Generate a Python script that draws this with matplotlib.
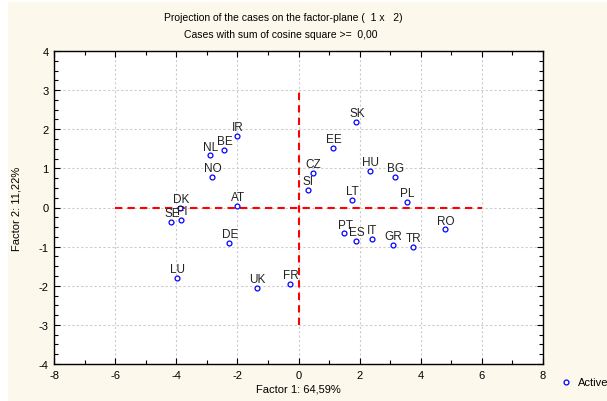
import matplotlib
matplotlib.use("Agg")
import matplotlib.pyplot as plt
from matplotlib.lines import Line2D
from matplotlib.patches import Rectangle
from matplotlib.ticker import MultipleLocator

# case labels and their coordinates on factor 1 / factor 2
countries = ["IR", "BE", "NL", "NO", "DK", "FI", "SE", "AT", "DE", "LU", "UK", "FR",
             "CZ", "SI", "SK", "EE", "HU", "BG", "LT", "PL", "RO", "PT", "ES", "IT",
             "GR", "TR"]
factor1 = [-2.00, -2.44, -2.90, -2.83, -3.87, -3.84, -4.16, -2.00, -2.26, -3.97, -1.37, -0.27,
           0.47, 0.30, 1.89, 1.12, 2.33, 3.16, 1.75, 3.54, 4.80, 1.50, 1.89, 2.39,
           3.09, 3.74]
factor2 = [1.84, 1.48, 1.33, 0.79, 0.00, -0.31, -0.36, 0.04, -0.91, -1.80, -2.05, -1.95,
           0.89, 0.45, 2.18, 1.53, 0.93, 0.79, 0.19, 0.14, -0.56, -0.66, -0.86, -0.81,
           -0.95, -1.00]

plt.rcParams["font.family"] = ["Liberation Sans", "DejaVu Sans"]
plt.rcParams["axes.unicode_minus"] = False

W, H = 607, 402
fig = plt.figure(figsize=(W / 100, H / 100), dpi=100)
fig.patch.set_facecolor("#fdf8ec")
# white page edges around the crop
fig.add_artist(Rectangle((0, 0), 8 / W, 1, transform=fig.transFigure, color="white", lw=0))
fig.add_artist(Rectangle((0, 1 - 3 / H), 1, 3 / H, transform=fig.transFigure, color="white", lw=0))

ax = fig.add_axes([54 / W, 1 - 365 / H, 489 / W, 313 / H])
ax.set_facecolor("white")

ax.set_xlim(-8, 8)
ax.set_ylim(-4, 4)
ax.xaxis.set_major_locator(MultipleLocator(2))
ax.xaxis.set_minor_locator(MultipleLocator(1))
ax.yaxis.set_major_locator(MultipleLocator(1))
ax.yaxis.set_minor_locator(MultipleLocator(0.25))
ax.tick_params(which="both", direction="in", top=True, right=True, labelsize=8, colors="black")
ax.tick_params(which="major", length=4, width=0.8, pad=4)
ax.tick_params(which="minor", length=3, width=0.8)
for s in ax.spines.values():
    s.set_linewidth(1)

ax.grid(True, which="major", color="#cccccc", linestyle=(0, (2, 2)), lw=0.8)
ax.set_axisbelow(True)

# reference cross
ax.plot([-6, 6], [0, 0], color="#ff0000", lw=1.5, linestyle=(0, (3.5, 2.5)), zorder=2)
ax.plot([0, 0], [-3, 3], color="#ff0000", lw=1.5, linestyle=(0, (3.5, 2.5)), zorder=2)

ax.plot(factor1, factor2, linestyle="none", marker="o", markersize=3.5, markerfacecolor="white",
        markeredgecolor="#0000ff", markeredgewidth=0.9, zorder=3)
for name, x, y in zip(countries, factor1, factor2):
    ax.annotate(name, (x, y), xytext=(0.5, 2), textcoords="offset points",
                ha="center", va="bottom", fontsize=8.5, color="#222222", zorder=4)

ax.set_xlabel("Factor 1: 64,59%", fontsize=8, labelpad=3)
ax.set_ylabel("Factor 2: 11,22%", fontsize=8, labelpad=12)

fig.text(283 / W, 1 - 18 / H, "Projection of the cases on the factor-plane (  1 x   2)",
         ha="center", va="center", fontsize=7.5)
fig.text(281 / W, 1 - 35 / H, "Cases with sum of cosine square >=  0,00",
         ha="center", va="center", fontsize=7.5)

# legend
fig.add_artist(Line2D([566 / W], [1 - 383 / H], marker="o", markersize=3.5, markerfacecolor="white",
                      markeredgecolor="#0000ff", markeredgewidth=0.9, transform=fig.transFigure))
fig.text(578 / W, 1 - 383 / H, "Active", ha="left", va="center", fontsize=8)

fig.savefig("out.png", dpi=100, facecolor=fig.get_facecolor())
